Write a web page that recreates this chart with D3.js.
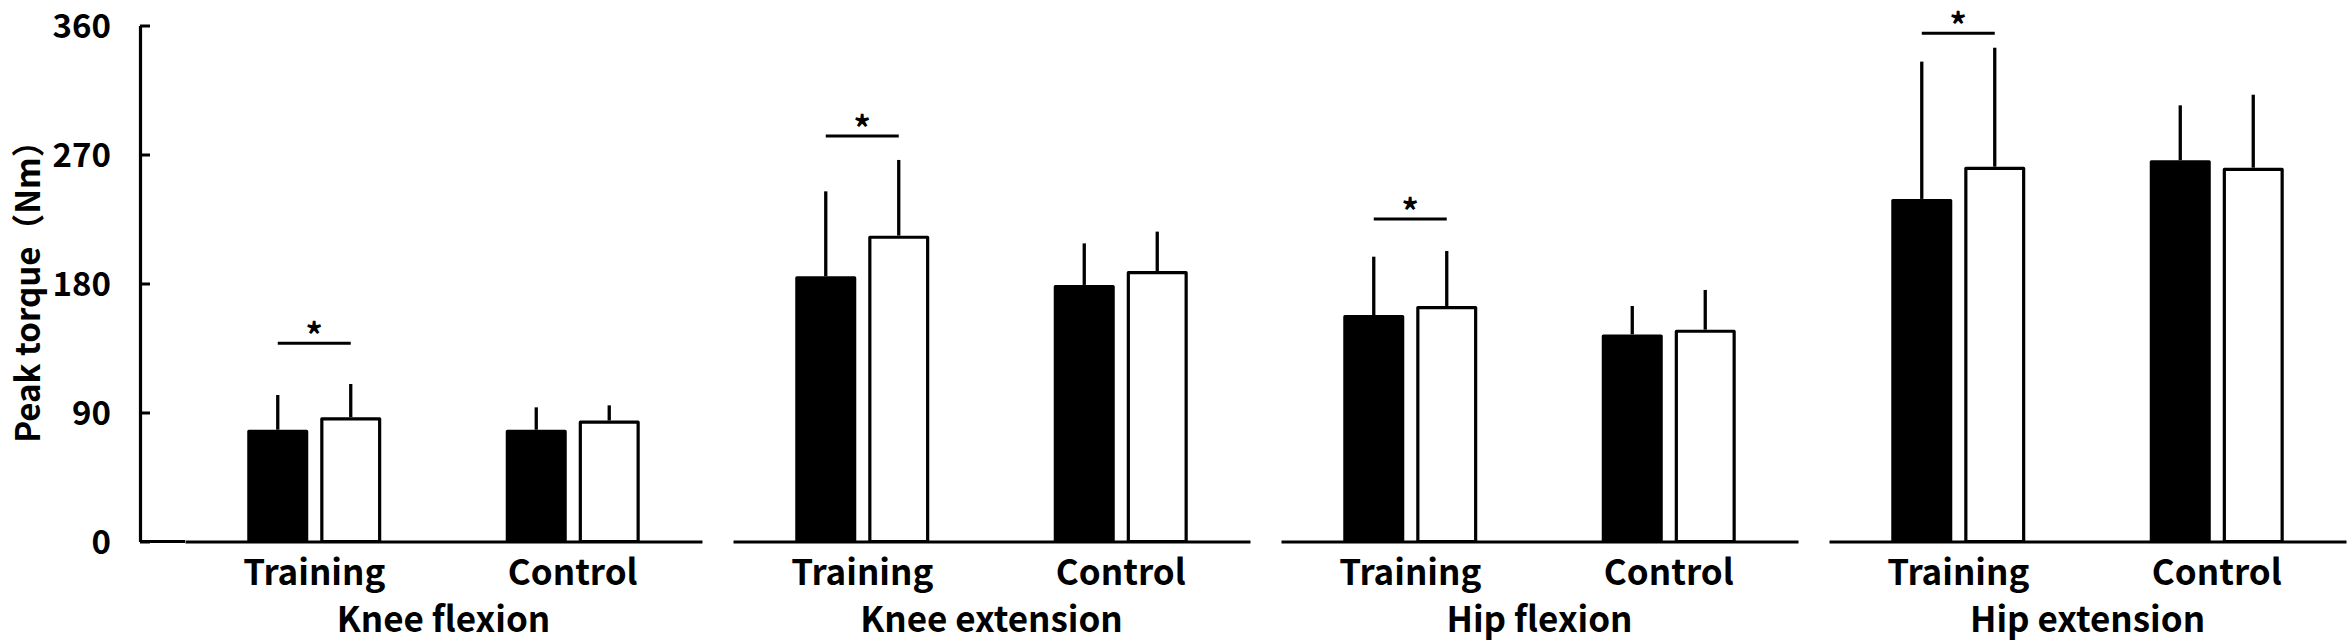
<!DOCTYPE html>
<html>
<head>
<meta charset="utf-8">
<script src="https://cdn.jsdelivr.net/npm/d3@7"></script>
<style>
  body { margin: 0; background: #fff; }
  svg text { font-family: "Noto Sans CJK JP", "Noto Sans", sans-serif; font-weight: bold; fill: #000; }
</style>
</head>
<body>
<svg id="chart" width="2352" height="644"></svg>
<script>
// muscles and groups
const muscles = ["Knee flexion", "Knee extension", "Hip flexion", "Hip extension"];
const groups = ["Training", "Control"];
const phases = ["pre", "post"];

// mean peak torque (Nm), [Training, Control] per muscle
const preMean  = [[78, 78], [185, 179], [158, 144.5], [239, 266]];
const postMean = [[86.7, 84.4], [213.4, 188.7], [164.3, 147.8], [261.5, 260.8]];
// SD (upper error bar only)
const preSD  = [[24.2, 15.6], [59.3, 29], [40.7, 19.8], [95.8, 38.3]];
const postSD = [[23.2, 10.6], [52.8, 27.5], [38.4, 27.7], [83, 50.9]];
// significance bar level per muscle (Training pre vs post)
const sigLevel = [138.3, 282.9, 225, 354.6];

const yTicks = [0, 90, 180, 270, 360];

const svg = d3.select("#chart");

const y = d3.scaleLinear().domain([0, 360]).range([541.5, 25.5]);
const axisX = 140;

// panels
const xPanel = d3.scaleBand().domain(muscles).range([185, 2346]).paddingInner(0.0566);
const xGroup = d3.scaleBand().domain(groups).range([0, xPanel.bandwidth()]);
const xPhase = d3.scaleBand().domain(phases).range([-67, 67]).paddingInner(0.164);

// y axis
const yAxis = svg.append("g")
  .attr("transform", `translate(${axisX},0)`)
  .call(d3.axisLeft(y).tickValues(yTicks).tickSizeInner(-10).tickSizeOuter(0).tickPadding(29));
yAxis.select(".domain").attr("stroke", "#000").attr("stroke-width", 3.2);
yAxis.selectAll(".tick line").attr("stroke", "#000").attr("stroke-width", 3);
yAxis.selectAll(".tick text")
  .attr("font-size", "33px")
  .attr("dy", "0.37em")
  .attr("font-family", "Roboto, 'Noto Sans', sans-serif");

// link from y axis to first panel baseline
svg.append("line")
  .attr("x1", axisX).attr("x2", xPanel(muscles[0]))
  .attr("y1", y(0)).attr("y2", y(0))
  .attr("stroke", "#000").attr("stroke-width", 3);

svg.append("text")
  .attr("transform", `translate(40,${(y(0) + y(360)) / 2}) rotate(-90)`)
  .attr("text-anchor", "middle")
  .attr("font-family", "Roboto, 'Noto Sans CJK JP', sans-serif")
  .attr("font-size", "33px")
  .text("Peak torque（Nm）");

muscles.forEach((m, i) => {
  const g = svg.append("g").attr("transform", `translate(${xPanel(m)},0)`);

  // bars
  groups.forEach((grp, j) => {
    const cx = xGroup(grp) + xGroup.bandwidth() / 2;
    const vals = [
      { phase: "pre", mean: preMean[i][j], sd: preSD[i][j] },
      { phase: "post", mean: postMean[i][j], sd: postSD[i][j] }
    ];

    // error bars (upper only), drawn first so bar top covers the join
    g.selectAll(null)
      .data(vals)
      .enter()
      .append("line")
      .attr("x1", d => cx + xPhase(d.phase) + xPhase.bandwidth() / 2)
      .attr("x2", d => cx + xPhase(d.phase) + xPhase.bandwidth() / 2)
      .attr("y1", d => y(d.mean))
      .attr("y2", d => y(d.mean + d.sd))
      .attr("stroke", "#000")
      .attr("stroke-width", 3.3);

    g.selectAll(null)
      .data(vals)
      .enter()
      .append("rect")
      .attr("x", d => cx + xPhase(d.phase) + 1.6)
      .attr("y", d => y(d.mean) + 1.6)
      .attr("width", xPhase.bandwidth() - 3.2)
      .attr("height", d => y(0) - y(d.mean) - 1.6)
      .attr("fill", d => d.phase === "pre" ? "#000" : "#fff")
      .attr("stroke", "#000")
      .attr("stroke-width", 3.2)
      .attr("stroke-linejoin", "round");
  });

  // baseline + group labels
  const xa = g.append("g")
    .attr("transform", `translate(0,${y(0)})`)
    .call(d3.axisBottom(xGroup).tickSize(0).tickSizeOuter(0).tickPadding(19));
  xa.select(".domain").attr("stroke", "#000").attr("stroke-width", 3);
  xa.selectAll(".tick text").attr("font-size", "35px").attr("font-family", null);

  // muscle label
  g.append("text")
    .attr("x", xPanel.bandwidth() / 2)
    .attr("y", 631.5)
    .attr("text-anchor", "middle")
    .attr("font-size", "35px")
    .text(m);

  // significance marker for Training
  const tcx = xGroup("Training") + xGroup.bandwidth() / 2;
  const x1 = tcx + xPhase("pre") + xPhase.bandwidth() / 2;
  const x2 = tcx + xPhase("post") + xPhase.bandwidth() / 2;
  g.append("line")
    .attr("x1", x1).attr("x2", x2)
    .attr("y1", y(sigLevel[i])).attr("y2", y(sigLevel[i]))
    .attr("stroke", "#000").attr("stroke-width", 3);
  g.append("text")
    .attr("x", (x1 + x2) / 2)
    .attr("y", y(sigLevel[i]) + 5)
    .attr("text-anchor", "middle")
    .attr("font-family", "'DejaVu Sans', sans-serif")
    .attr("font-size", "34px")
    .text("*");
});
</script>
</body>
</html>
